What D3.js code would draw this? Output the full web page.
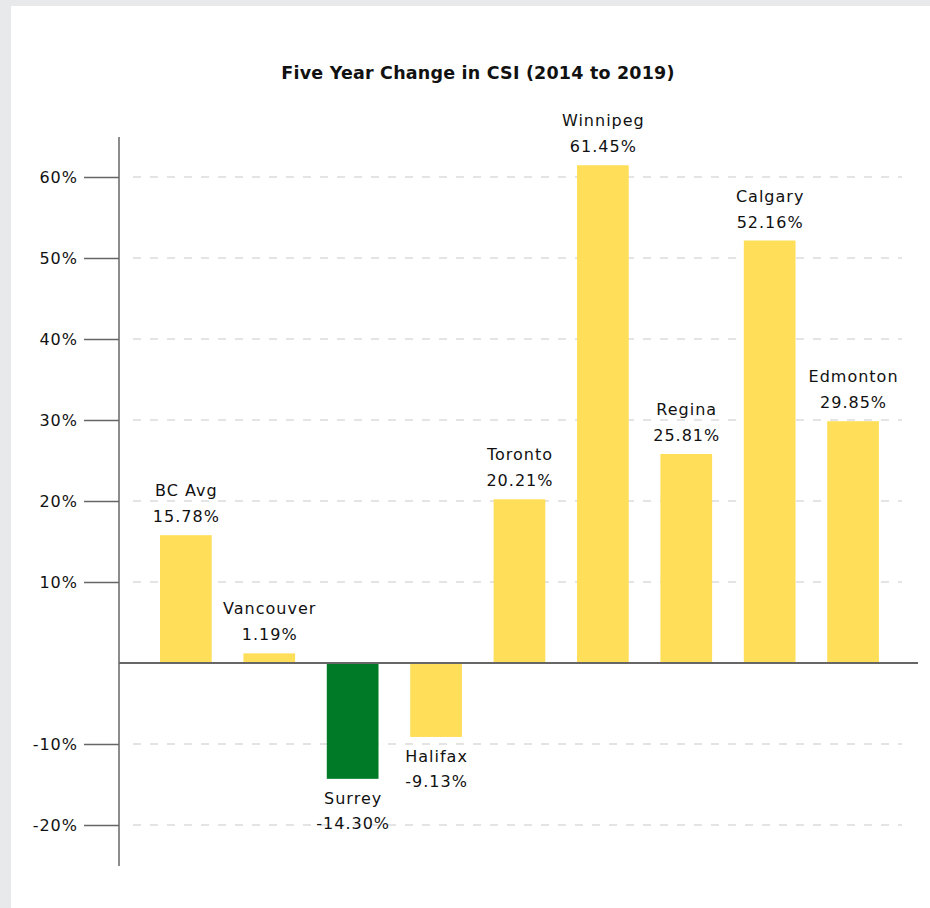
<!DOCTYPE html>
<html>
<head>
<meta charset="utf-8">
<script src="https://cdn.jsdelivr.net/npm/d3@7"></script>
<style>
  html, body { margin: 0; padding: 0; background: #e8e9ea; }
  svg { display: block; }
  text { font-family: "DejaVu Sans", sans-serif; fill: #111; }
</style>
</head>
<body>
<script>
const categories = ["BC Avg", "Vancouver", "Surrey", "Halifax", "Toronto", "Winnipeg", "Regina", "Calgary", "Edmonton"];
const values = [15.78, 1.19, -14.30, -9.13, 20.21, 61.45, 25.81, 52.16, 29.85];
const highlight = ["Surrey"];
const yTicks = [-20, -10, 10, 20, 30, 40, 50, 60];
const title = "Five Year Change in CSI (2014 to 2019)";

const W = 930, H = 908;
const svg = d3.select("body").append("svg").attr("width", W).attr("height", H);

// white panel
svg.append("rect").attr("x", 11).attr("y", 6).attr("width", W - 11).attr("height", H - 6).attr("fill", "#fff");

const y = d3.scaleLinear().domain([0, 60]).range([663, 177]);
const x = d3.scaleBand().domain(categories).range([128.3, 910.6]).paddingInner(0.38).paddingOuter(0.38);

// title
svg.append("text").attr("x", 478).attr("y", 79).attr("text-anchor", "middle")
  .style("font-weight", "bold").style("font-size", "17.5px").style("letter-spacing", "0.2px").text(title);

// gridlines
svg.append("g").selectAll("line").data(yTicks).join("line")
  .attr("x1", 133).attr("x2", 902)
  .attr("y1", d => y(d)).attr("y2", d => y(d))
  .attr("stroke", "#dcdcdc").attr("stroke-width", 1.5).attr("stroke-dasharray", "8,9");

// y axis
const yAxis = d3.axisLeft(y).tickValues(yTicks).tickSize(35).tickPadding(6).tickFormat(d => d + "%");
const gy = svg.append("g").attr("transform", "translate(119,0)").call(yAxis);
gy.select(".domain").remove();
gy.selectAll(".tick line").attr("stroke", "#666").attr("stroke-width", 1.5);
gy.selectAll(".tick text").style("font-size", "16px").style("letter-spacing", "1px")
  .style("font-family", "DejaVu Sans, sans-serif").attr("fill", "#111");
svg.append("line").attr("x1", 119).attr("x2", 119).attr("y1", 137).attr("y2", 866)
  .attr("stroke", "#666").attr("stroke-width", 1.5);

// bars
svg.append("g").selectAll("rect").data(categories).join("rect")
  .attr("x", d => x(d))
  .attr("width", x.bandwidth())
  .attr("y", (d, i) => y(Math.max(0, values[i])))
  .attr("height", (d, i) => Math.abs(y(values[i]) - y(0)))
  .attr("fill", d => highlight.includes(d) ? "#007a26" : "#ffde59");

// zero line
svg.append("line").attr("x1", 119).attr("x2", 918).attr("y1", y(0)).attr("y2", y(0))
  .attr("stroke", "#666").attr("stroke-width", 2);

// labels
const lg = svg.append("g").style("font-size", "16px").style("letter-spacing", "1px");
categories.forEach((c, i) => {
  const v = values[i];
  const cx = x(c) + x.bandwidth() / 2 + 0.5;
  const vt = (v < 0 ? "-" : "") + Math.abs(v).toFixed(2) + "%";
  if (v >= 0) {
    lg.append("text").attr("x", cx).attr("y", y(v) - 39).attr("text-anchor", "middle").text(c);
    lg.append("text").attr("x", cx).attr("y", y(v) - 13).attr("text-anchor", "middle").text(vt);
  } else {
    lg.append("text").attr("x", cx).attr("y", y(v) + 25).attr("text-anchor", "middle").text(c);
    lg.append("text").attr("x", cx).attr("y", y(v) + 50).attr("text-anchor", "middle").text(vt);
  }
});
</script>
</body>
</html>
